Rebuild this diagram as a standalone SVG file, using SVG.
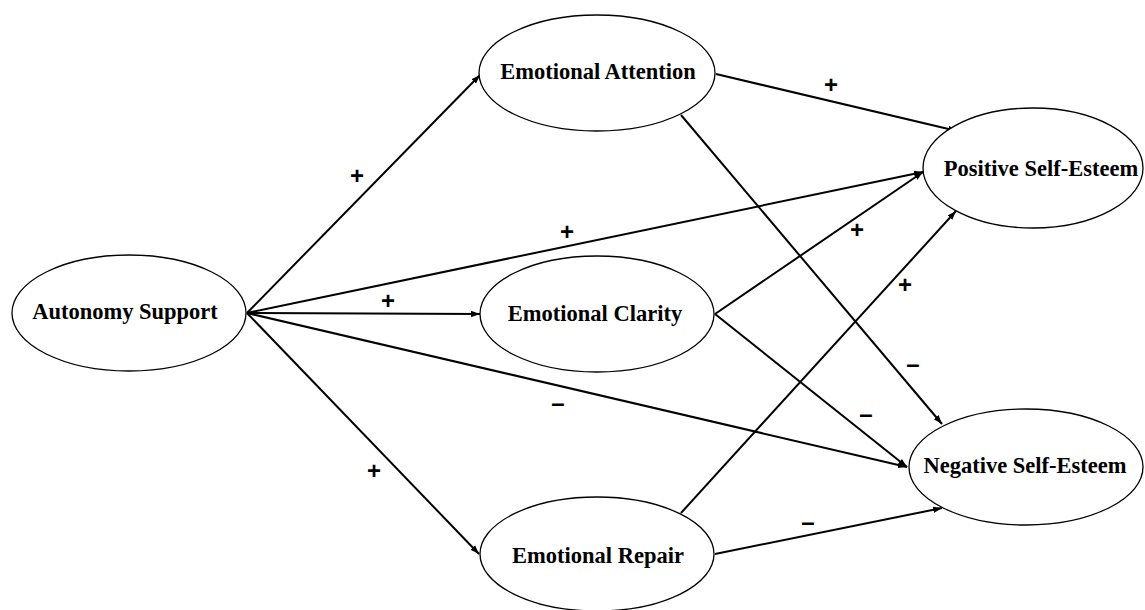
<svg xmlns="http://www.w3.org/2000/svg" width="1145" height="610" viewBox="0 0 1145 610">
<style>
.node ellipse{fill:#fff;stroke:#000;stroke-width:1.3}
.node text{font-family:"Liberation Serif","Times New Roman",serif;font-weight:bold;font-size:22.5px;fill:#000;text-anchor:middle}
.edges line{stroke:#000;stroke-width:2;marker-end:url(#ah)}
.sign{font-family:"Liberation Sans",Arial,sans-serif;font-weight:bold;font-size:24px;fill:#000;text-anchor:middle}
</style>
<defs>
<marker id="ah" markerUnits="userSpaceOnUse" markerWidth="10" markerHeight="8" refX="9" refY="4" orient="auto">
<path d="M0,0.8 L9,4 L0,7.2 Z" fill="#000"/>
</marker>
</defs>
<rect width="1145" height="610" fill="#fff"/>
<g class="edges">
<line x1="247" y1="313" x2="480" y2="75"/>
<line x1="247" y1="313" x2="923" y2="172"/>
<line x1="247" y1="313" x2="480" y2="314"/>
<line x1="247" y1="313" x2="907" y2="467"/>
<line x1="247" y1="313" x2="479" y2="554"/>
<line x1="716" y1="74" x2="957" y2="131"/>
<line x1="681" y1="115" x2="942" y2="424"/>
<line x1="715" y1="314" x2="923" y2="172"/>
<line x1="715" y1="314" x2="907" y2="467"/>
<line x1="681" y1="513" x2="956" y2="211"/>
<line x1="715" y1="554" x2="942" y2="508"/>
</g>
<g id="autonomy" class="node"><ellipse cx="129" cy="313" rx="117" ry="58"/><text x="125" y="319">Autonomy Support</text></g>
<g id="attention" class="node"><ellipse cx="597" cy="73" rx="118" ry="58"/><text x="598" y="79">Emotional Attention</text></g>
<g id="clarity" class="node"><ellipse cx="597" cy="314" rx="117" ry="58"/><text x="595" y="321">Emotional Clarity</text></g>
<g id="repair" class="node"><ellipse cx="597" cy="554" rx="117" ry="57"/><text x="598" y="563">Emotional Repair</text></g>
<g id="positive" class="node"><ellipse cx="1033" cy="168" rx="110" ry="60"/><text x="1041" y="176">Positive Self-Esteem</text></g>
<g id="negative" class="node"><ellipse cx="1026" cy="467" rx="117" ry="58"/><text x="1025" y="473">Negative Self-Esteem</text></g>
<g id="labels">
<text class="sign" x="357" y="184">+</text>
<text class="sign" x="567" y="240">+</text>
<text class="sign" x="388" y="309">+</text>
<text class="sign" x="558" y="411">–</text>
<text class="sign" x="374" y="479">+</text>
<text class="sign" x="831" y="93">+</text>
<text class="sign" x="913" y="372">–</text>
<text class="sign" x="857" y="238">+</text>
<text class="sign" x="866" y="422">–</text>
<text class="sign" x="905" y="293">+</text>
<text class="sign" x="808" y="530">–</text>
</g>
</svg>
